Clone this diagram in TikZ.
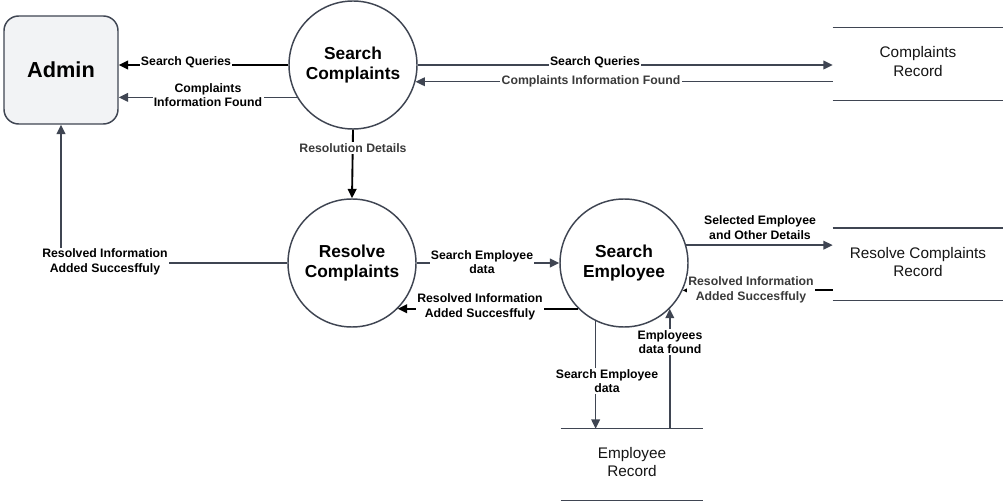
\documentclass[tikz,border=0pt]{standalone}
\usepackage{fontspec}
\setmainfont{Liberation Sans}
\usetikzlibrary{arrows.meta}
\definecolor{ln}{HTML}{3F4552}
\definecolor{adm}{HTML}{F2F3F5}
\definecolor{lg}{HTML}{3A3A3A}
\begin{document}
\begin{tikzpicture}[x=0.75pt,y=-0.75pt,
  proc/.style={circle,draw=ln,line width=1.1pt,fill=white,minimum size=96pt,inner sep=0pt,align=center,font=\fontsize{13}{15.5}\selectfont\bfseries},
  ent/.style={rectangle,rounded corners=11pt,draw=ln,line width=1.1pt,fill=adm,minimum width=85.5pt,minimum height=81pt,font=\fontsize{16.3}{19}\selectfont\bfseries},
  storebox/.style={rectangle,minimum width=127.5pt,minimum height=54pt,inner sep=0pt,align=center,text=black!92,font=\fontsize{11.5}{14}\selectfont},
  storeline/.style={draw=ln,line width=1.1pt},
  flow/.style={draw=ln,line width=1.1pt,-{Triangle[length=7pt,width=6.5pt]}},
  bflow/.style={draw=black,line width=1.4pt,-{Triangle[length=7pt,width=6.5pt]}},
  lbl/.style={fill=white,inner sep=1pt,align=center,text=black,font=\fontsize{9.2}{10.8}\selectfont\bfseries},
  glbl/.style={lbl,text=lg}]
\useasboundingbox (0,0) rectangle (1007,502);

% entities and processes
\node[ent] (adm) at (61,70) {Admin};
\node[proc] (sc) at (353,65) {Search\\Complaints};
\node[proc] (rc) at (352,263) {Resolve\\Complaints};
\node[proc] (se) at (624,263) {Search\\Employee};

% data stores
\node[storebox] (cr) at (918,64) {Complaints\\Record\rule[-4pt]{0pt}{0pt}};
\node[storebox] (rcr) at (918,264.5) {Resolve Complaints\\Record\rule[-4pt]{0pt}{0pt}};
\node[storebox,minimum width=106.5pt,minimum height=53.25pt] (er) at (632,464.5) {Employee\\Record\rule[-4pt]{0pt}{0pt}};
\foreach \s in {cr,rcr,er}{
  \draw[storeline] (\s.north west) -- (\s.north east);
  \draw[storeline] (\s.south west) -- (\s.south east);
}

% flows
\draw[bflow] (sc.west) -- (adm.east |- sc.west);
\draw[flow] (sc.210) -- (adm.east |- sc.210);
\draw[flow] (sc.east) -- (cr.west |- sc.east);
\draw[flow] (cr.west |- sc.-15) -- (sc.-15);
\draw[bflow] (sc.south) -- (rc.north);
\draw[flow] (rc.west) -| (adm.south);
\draw[flow] (rc.east) -- (se.west);
\draw[bflow] (se.225) -- (rc.-45);
\draw[flow] (se.16.6) -- (rcr.west |- se.16.6);
\draw[bflow] (rcr.west |- se.-25.4) -- (se.-25.4);
\draw[flow] (se.-116) -- (se.-116 |- er.north);
\draw[flow] (se.-45.6 |- er.north) -- (se.-45.6);

% labels
\node[lbl] (l1) at (186,62) {Search Queries};
\node[lbl] (l2) at (208,95) {Complaints\\Information Found};
\node[lbl] (l3) at (595,62) {Search Queries};
\node[glbl] (l4) at (591,81) {Complaints Information Found};
\node[glbl] (l5) at (353,148) {Resolution Details};
\node[lbl] (l6) at (105,262) {Resolved Information\\Added Succesffuly};
\node[lbl] (l7) at (482,262) {Search Employee\\data};
\node[lbl] (l8) at (480,307) {Resolved Information\\Added Succesffuly};
\node[lbl,fill=none,anchor=south] (l9) at (760,241) {Selected Employee\\and Other Details};
\node[glbl] (l10) at (751,290) {Resolved Information\\Added Succesffuly};
\node[lbl] (l11) at (607,381) {Search Employee\\data};
\node[lbl] (l12) at (670,342) {Employees\\data found};
\end{tikzpicture}
\end{document}
